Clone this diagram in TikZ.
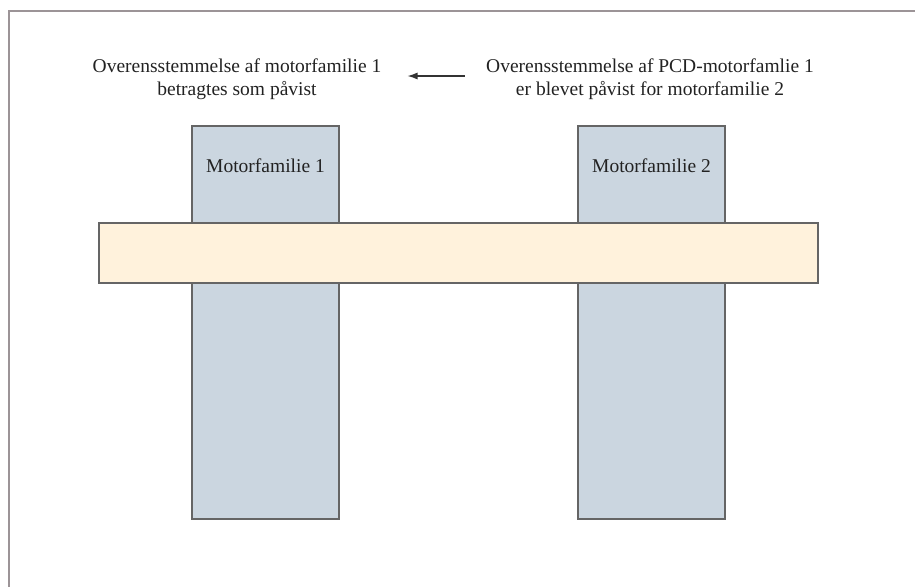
\documentclass[tikz,border=0pt]{standalone}
\usepackage{fontspec}
\setmainfont{Liberation Serif}
\usetikzlibrary{arrows.meta}
\definecolor{framecol}{HTML}{9C9497}
\definecolor{boxfill}{HTML}{CBD6E0}
\definecolor{boxline}{HTML}{656565}
\definecolor{barfill}{HTML}{FFF2DC}
\definecolor{txt}{HTML}{222222}
\begin{document}
\begin{tikzpicture}[x=1pt,y=-1pt,
  famblock/.style={draw=boxline, fill=boxfill, line width=1.6pt},
  barblock/.style={draw=boxline, fill=barfill, line width=1.6pt},
  lbl/.style={text=txt, font=\fontsize{19.5}{23}\selectfont, align=center, inner sep=0pt},
  famlbl/.style={text=txt, font=\fontsize{19.5}{22}\selectfont, inner sep=0pt}]
\useasboundingbox (0,0) rectangle (915,586);
\begin{scope}
\clip (0,0) rectangle (915,586);
\draw[framecol, line width=2pt] (920,11) -- (9,11) -- (9,600);
\end{scope}
% family boxes
\draw[famblock] (192,126) rectangle (339,519);
\draw[famblock] (578,126) rectangle (725,519);
\node[famlbl] (f1) at (265.5,166) {Motorfamilie 1};
\node[famlbl] (f2) at (651.5,166) {Motorfamilie 2};
% bar
\draw[barblock] (99,223) rectangle (818,283);
% top texts
\node[lbl] (t1) at (237,79) {Overensstemmelse af motorfamilie 1\\betragtes som påvist};
\node[lbl] (t2) at (650,79) {Overensstemmelse af PCD-motorfamlie 1\\er blevet påvist for motorfamilie 2};
\draw[-{Latex[length=10pt,width=7pt]}, black!80, line width=1.3pt]
  ([yshift=3pt,xshift=-21pt]t2.west) -- ([yshift=3pt,xshift=26pt]t1.east);
\end{tikzpicture}
\end{document}
